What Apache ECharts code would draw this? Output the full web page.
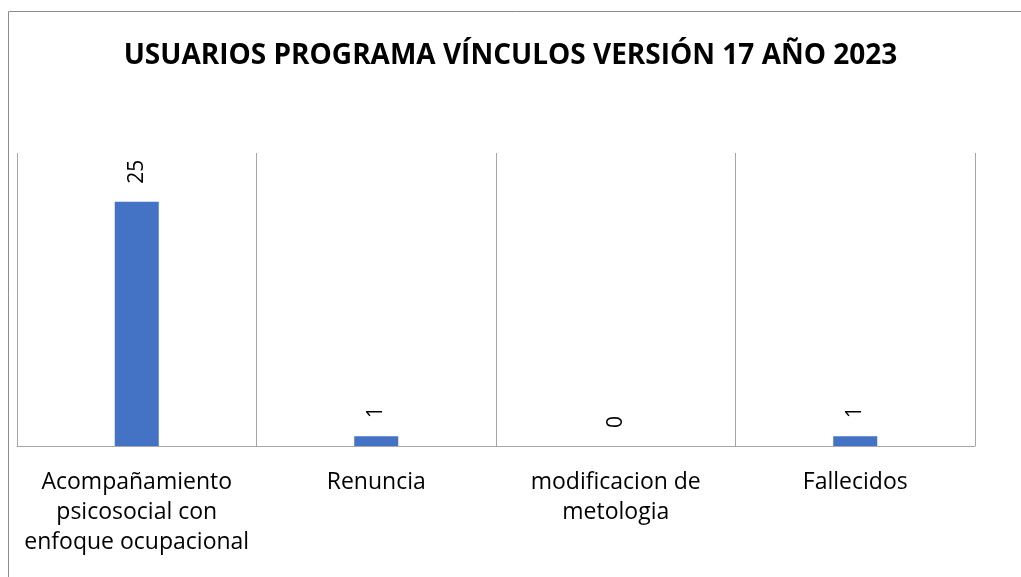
<!DOCTYPE html>
<html>
<head>
<meta charset="utf-8">
<style>
  html, body { margin: 0; padding: 0; background: #fff; }
  #chart { width: 1021px; height: 577px; }
</style>
<script src="https://cdn.jsdelivr.net/npm/echarts@6/dist/echarts.min.js"></script>
</head>
<body>
<div id="chart"></div>
<script>
// datos del grafico
const categorias = [
  'Acompañamiento\npsicosocial con\nenfoque ocupacional',
  'Renuncia',
  'modificacion de\nmetologia',
  'Fallecidos'
]
const usuarios = [25, 1, 0, 1]

const chart = echarts.init(document.getElementById('chart'))
const fuente = '"Open Sans", "Noto Sans", sans-serif'

chart.setOption({
  animation: false,
  graphic: [{
    type: 'rect',
    shape: { x: 8.5, y: 11.5, width: 1100, height: 700 },
    style: { fill: 'none', stroke: '#8c8c8c', lineWidth: 1 },
    silent: true
  }],
  title: {
    text: 'USUARIOS PROGRAMA VÍNCULOS VERSIÓN 17 AÑO 2023',
    left: 'center',
    top: 37,
    textStyle: {
      fontFamily: fuente,
      fontWeight: 'bold',
      fontSize: 28,
      color: '#000'
    }
  },
  grid: {
    left: 17,
    right: 46,
    top: 153,
    bottom: 131,
    containLabel: false
  },
  xAxis: {
    type: 'category',
    data: categorias,
    boundaryGap: true,
    axisTick: { show: false },
    axisLine: { lineStyle: { color: '#a6a6a6', width: 1 } },
    splitLine: {
      show: true,
      interval: 0,
      lineStyle: { color: '#a6a6a6', width: 1 }
    },
    axisLabel: {
      interval: 0,
      margin: 21,
      fontFamily: fuente,
      fontSize: 23,
      lineHeight: 30,
      color: '#000'
    }
  },
  yAxis: {
    type: 'value',
    min: 0,
    max: 30,
    show: false,
    splitLine: { show: false }
  },
  series: [{
    type: 'bar',
    data: usuarios,
    barWidth: 44,
    itemStyle: { color: '#4472C4' },
    label: {
      show: true,
      position: 'top',
      rotate: 90,
      align: 'left',
      verticalAlign: 'middle',
      distance: 18,
      fontFamily: fuente,
      fontSize: 21,
      color: '#000'
    }
  }]
})
</script>
</body>
</html>
